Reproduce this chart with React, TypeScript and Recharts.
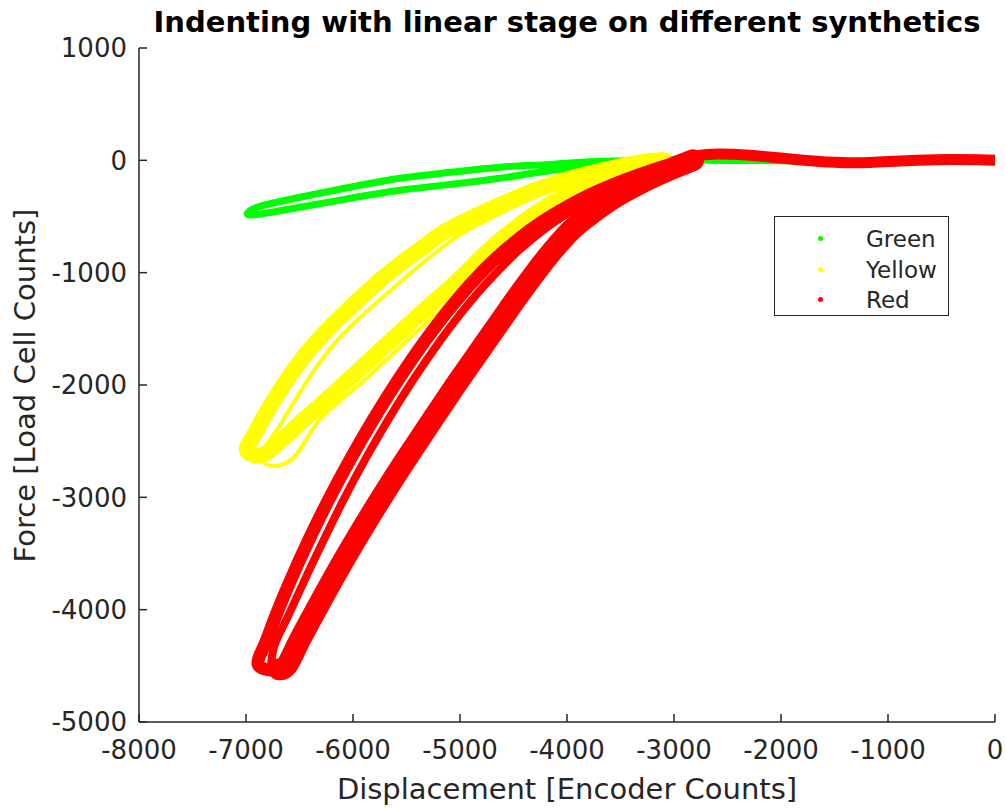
import React from 'react';
import { LineChart, Line, XAxis, YAxis, Legend } from 'recharts';

// ---------- axis ticks ----------
const xTicks = [-8000, -7000, -6000, -5000, -4000, -3000, -2000, -1000, 0];
const yTicks = [1000, 0, -1000, -2000, -3000, -4000, -5000];
const legendOrder = ['Green', 'Yellow', 'Red'];

// ---------- series (Displacement, Force) ----------
const greenLoop: [number, number][] = [
  [-2944, 9], [-3224, 0], [-3692, -9], [-4159, -36], [-4626, -62], [-5093, -107],
  [-5561, -160], [-6028, -240], [-6495, -329], [-6869, -409], [-6981, -463],
  [-6916, -485], [-6495, -418], [-6028, -338], [-5561, -267], [-5093, -214],
  [-4626, -160], [-4000, -71], [-3383, -18], [-2944, 0],
];
const greenTail: [number, number][] = [
  [-2944, 0], [-2500, -5], [-2000, -8], [-1500, -12], [-1000, -6], [-500, 0], [0, 0],
];

const yellowLoopA: [number, number][] = [
  [-3093, 0], [-3318, -18], [-3785, -116], [-4299, -267], [-5000, -561], [-5262, -712],
  [-5514, -890], [-5748, -1068], [-6150, -1424], [-6449, -1736], [-6664, -2021],
  [-6850, -2314], [-6953, -2493], [-6991, -2580],
  [-6900, -2630], [-6750, -2560], [-6467, -2314], [-6121, -2021], [-5439, -1424],
  [-5019, -1068], [-4832, -890], [-4626, -712], [-4252, -445], [-3785, -205],
  [-3411, -71], [-3093, 0],
];
const yellowLoopB: [number, number][] = [
  [-3093, 0], [-3692, -134], [-4159, -267], [-4813, -561], [-5080, -712], [-5320, -890],
  [-5540, -1068], [-5963, -1424], [-6262, -1736], [-6467, -2021], [-6654, -2314],
  [-6776, -2493], [-6850, -2626], [-6813, -2706],
  [-6682, -2715], [-6514, -2599], [-6318, -2314], [-5972, -2021], [-5290, -1424],
  [-4869, -1068], [-4682, -890], [-4486, -712], [-4112, -445], [-3673, -205],
  [-3299, -71], [-3037, 0],
];
const yellowTail: [number, number][] = [
  [-3037, 0], [-2800, 30], [-2600, 40], [-2300, 35], [-2000, 12], [-1650, -8],
  [-1350, -18], [-1000, -8], [-700, 0], [-400, 6], [0, 0],
];

const redLoadingOuter: [number, number][] = [
  [-2899, 0], [-3207, -89], [-3468, -178], [-3693, -267], [-3888, -356], [-4137, -490],
  [-4346, -623], [-4579, -801], [-4779, -979], [-5033, -1246], [-5323, -1602],
  [-5580, -1958], [-5815, -2315], [-6031, -2671], [-6231, -3027], [-6415, -3383],
  [-6584, -3739], [-6738, -4095], [-6827, -4317], [-6888, -4478],
  [-6790, -4535], [-6690, -4530],
];
const redLoadingInner: [number, number][] = [
  [-2899, 0], [-3188, -89], [-3422, -178], [-3618, -267], [-3794, -356], [-4024, -490],
  [-4224, -623], [-4449, -801], [-4638, -979], [-4893, -1246], [-5183, -1602],
  [-5440, -1958], [-5675, -2315], [-5891, -2671], [-6091, -3027], [-6275, -3383],
  [-6453, -3739], [-6626, -4095], [-6734, -4317], [-6766, -4496],
];
const redUnloading: [number, number][] = [
  [-6690, -4530], [-6617, -4496], [-6522, -4317], [-6399, -4095], [-6194, -3739],
  [-5978, -3383], [-5750, -3027], [-5511, -2671], [-5262, -2315], [-5009, -1958],
  [-4748, -1602], [-4486, -1246], [-4280, -979], [-4131, -801], [-3963, -623],
  [-3794, -490], [-3598, -356], [-3439, -267], [-3262, -178], [-3056, -89], [-2822, 0],
];
const redTail: [number, number][] = [
  [-2950, 0], [-2822, 35], [-2636, 55], [-2290, 45], [-1981, 18], [-1664, -9],
  [-1355, -22], [-1047, -12], [-729, 0], [-421, 8], [-150, 5], [0, 0],
];

const GREEN = '#00ff00';
const YELLOW = '#ffff00';
const RED = '#ff0000';
const INK = '#262626';
const FONT = 'DejaVu Sans';

const pts = (arr: [number, number][]) => arr.map(([x, y]) => ({ x, y }));

const TICK_LEN = 8;

function BottomTick(props: any) {
  const { x, y, payload } = props;
  return (
    <g>
      <line x1={x} x2={x} y1={y} y2={y - TICK_LEN} stroke={INK} strokeWidth={1.5} />
      <text x={x} y={y + 37} textAnchor="middle" fontFamily={FONT} fontSize={26} fill={INK}>
        {payload.value}
      </text>
    </g>
  );
}
function TopTick(props: any) {
  const { x, y } = props;
  return <line x1={x} x2={x} y1={y} y2={y + TICK_LEN} stroke={INK} strokeWidth={1.5} />;
}
function LeftTick(props: any) {
  const { x, y, payload } = props;
  return (
    <g>
      <line x1={x} x2={x + TICK_LEN} y1={y} y2={y} stroke={INK} strokeWidth={1.5} />
      <text x={x - 12} y={y} dy="0.36em" textAnchor="end" fontFamily={FONT} fontSize={26} fill={INK}>
        {payload.value}
      </text>
    </g>
  );
}
function RightTick(props: any) {
  const { x, y } = props;
  return <line x1={x} x2={x - TICK_LEN} y1={y} y2={y} stroke={INK} strokeWidth={1.5} />;
}

function LegendBox(props: any) {
  const items = (props.payload || [])
    .filter((p: any) => p.type !== 'none')
    .slice()
    .sort((a: any, b: any) => legendOrder.indexOf(a.value) - legendOrder.indexOf(b.value));
  return (
    <div
      style={{
        position: 'relative',
        width: 175,
        height: 100,
        boxSizing: 'border-box',
        border: `1.5px solid ${INK}`,
        background: '#fff',
        fontFamily: FONT,
        fontSize: 23,
        color: INK,
      }}
    >
      {items.map((it: any, i: number) => (
        <div key={it.value} style={{ position: 'absolute', left: 0, top: 7 + i * 30.5, height: 30, width: '100%' }}>
          <span
            style={{
              position: 'absolute',
              left: 43,
              top: 12,
              width: 5,
              height: 5,
              borderRadius: '50%',
              background: it.color,
            }}
          />
          <span style={{ position: 'absolute', left: 91, top: 0, lineHeight: '30px', whiteSpace: 'nowrap' }}>
            {it.value}
          </span>
        </div>
      ))}
    </div>
  );
}

const lineCommon = {
  type: 'natural' as const,
  dataKey: 'y',
  dot: false,
  activeDot: false,
  isAnimationActive: false,
  strokeLinecap: 'round' as const,
  strokeLinejoin: 'round' as const,
};

export default function App() {
  return (
    <div style={{ position: 'absolute', left: 0, top: 0, width: 1006, height: 808, background: '#fff', overflow: 'hidden' }}>
      <div
        style={{
          position: 'absolute',
          left: 139,
          width: 856,
          top: 8,
          textAlign: 'center',
          fontFamily: FONT,
          fontWeight: 'bold',
          fontSize: 29,
          lineHeight: '29px',
          color: '#000',
          whiteSpace: 'nowrap',
        }}
      >
        Indenting with linear stage on different synthetics
      </div>
      <LineChart width={1006} height={808} margin={{ top: 48, right: 11, bottom: 0, left: 0 }}>
        <XAxis
          dataKey="x"
          type="number"
          domain={[-8000, 0]}
          ticks={xTicks}
          interval={0}
          height={86}
          tickSize={0}
          tickMargin={0}
          tickLine={false}
          axisLine={{ stroke: INK, strokeWidth: 1.5 }}
          tick={<BottomTick />}
          allowDataOverflow
        />
        <XAxis
          xAxisId="top"
          orientation="top"
          dataKey="x"
          type="number"
          domain={[-8000, 0]}
          ticks={xTicks}
          interval={0}
          height={0}
          tickSize={0}
          tickMargin={0}
          tickLine={false}
          axisLine={{ stroke: INK, strokeWidth: 1.5 }}
          tick={<TopTick />}
          allowDataOverflow
        />
        <YAxis
          type="number"
          domain={[-5000, 1000]}
          ticks={yTicks}
          interval={0}
          width={139}
          tickSize={0}
          tickMargin={0}
          tickLine={false}
          axisLine={{ stroke: INK, strokeWidth: 1.5 }}
          tick={<LeftTick />}
          allowDataOverflow
        />
        <YAxis
          yAxisId="right"
          orientation="right"
          type="number"
          domain={[-5000, 1000]}
          ticks={yTicks}
          interval={0}
          width={0}
          tickSize={0}
          tickMargin={0}
          tickLine={false}
          axisLine={{ stroke: INK, strokeWidth: 1.5 }}
          tick={<RightTick />}
          allowDataOverflow
        />
        <Legend
          layout="horizontal"
          verticalAlign="middle"
          align="center"
          content={<LegendBox />}
          wrapperStyle={{ position: 'absolute', left: 774, top: 216, width: 175, height: 100 }}
        />
        <Line {...lineCommon} name="Green" data={pts(greenLoop)} stroke={GREEN} strokeWidth={7} />
        <Line {...lineCommon} legendType="none" data={pts(greenTail)} stroke={GREEN} strokeWidth={6} />
        <Line {...lineCommon} name="Yellow" data={pts(yellowLoopA)} stroke={YELLOW} strokeWidth={16} />
        <Line {...lineCommon} legendType="none" data={pts(yellowLoopB)} stroke={YELLOW} strokeWidth={4} />
        <Line {...lineCommon} legendType="none" data={pts(yellowTail)} stroke={YELLOW} strokeWidth={6} />
        <Line {...lineCommon} name="Red" data={pts(redLoadingOuter)} stroke={RED} strokeWidth={13} />
        <Line {...lineCommon} legendType="none" data={pts(redLoadingInner)} stroke={RED} strokeWidth={8} />
        <Line {...lineCommon} legendType="none" data={pts(redUnloading)} stroke={RED} strokeWidth={22} />
        <Line {...lineCommon} legendType="none" data={pts(redTail)} stroke={RED} strokeWidth={11} />
      </LineChart>
      <div
        style={{
          position: 'absolute',
          left: 139,
          width: 856,
          top: 775,
          textAlign: 'center',
          fontFamily: FONT,
          fontSize: 29,
          lineHeight: '29px',
          color: INK,
          whiteSpace: 'nowrap',
        }}
      >
        Displacement [Encoder Counts]
      </div>
      <div
        style={{
          position: 'absolute',
          left: 25 - 250,
          width: 500,
          top: 385 - 14.5,
          height: 29,
          textAlign: 'center',
          fontFamily: FONT,
          fontSize: 29,
          lineHeight: '29px',
          color: INK,
          whiteSpace: 'nowrap',
          transform: 'rotate(-90deg)',
          transformOrigin: '50% 50%',
        }}
      >
        Force [Load Cell Counts]
      </div>
    </div>
  );
}
